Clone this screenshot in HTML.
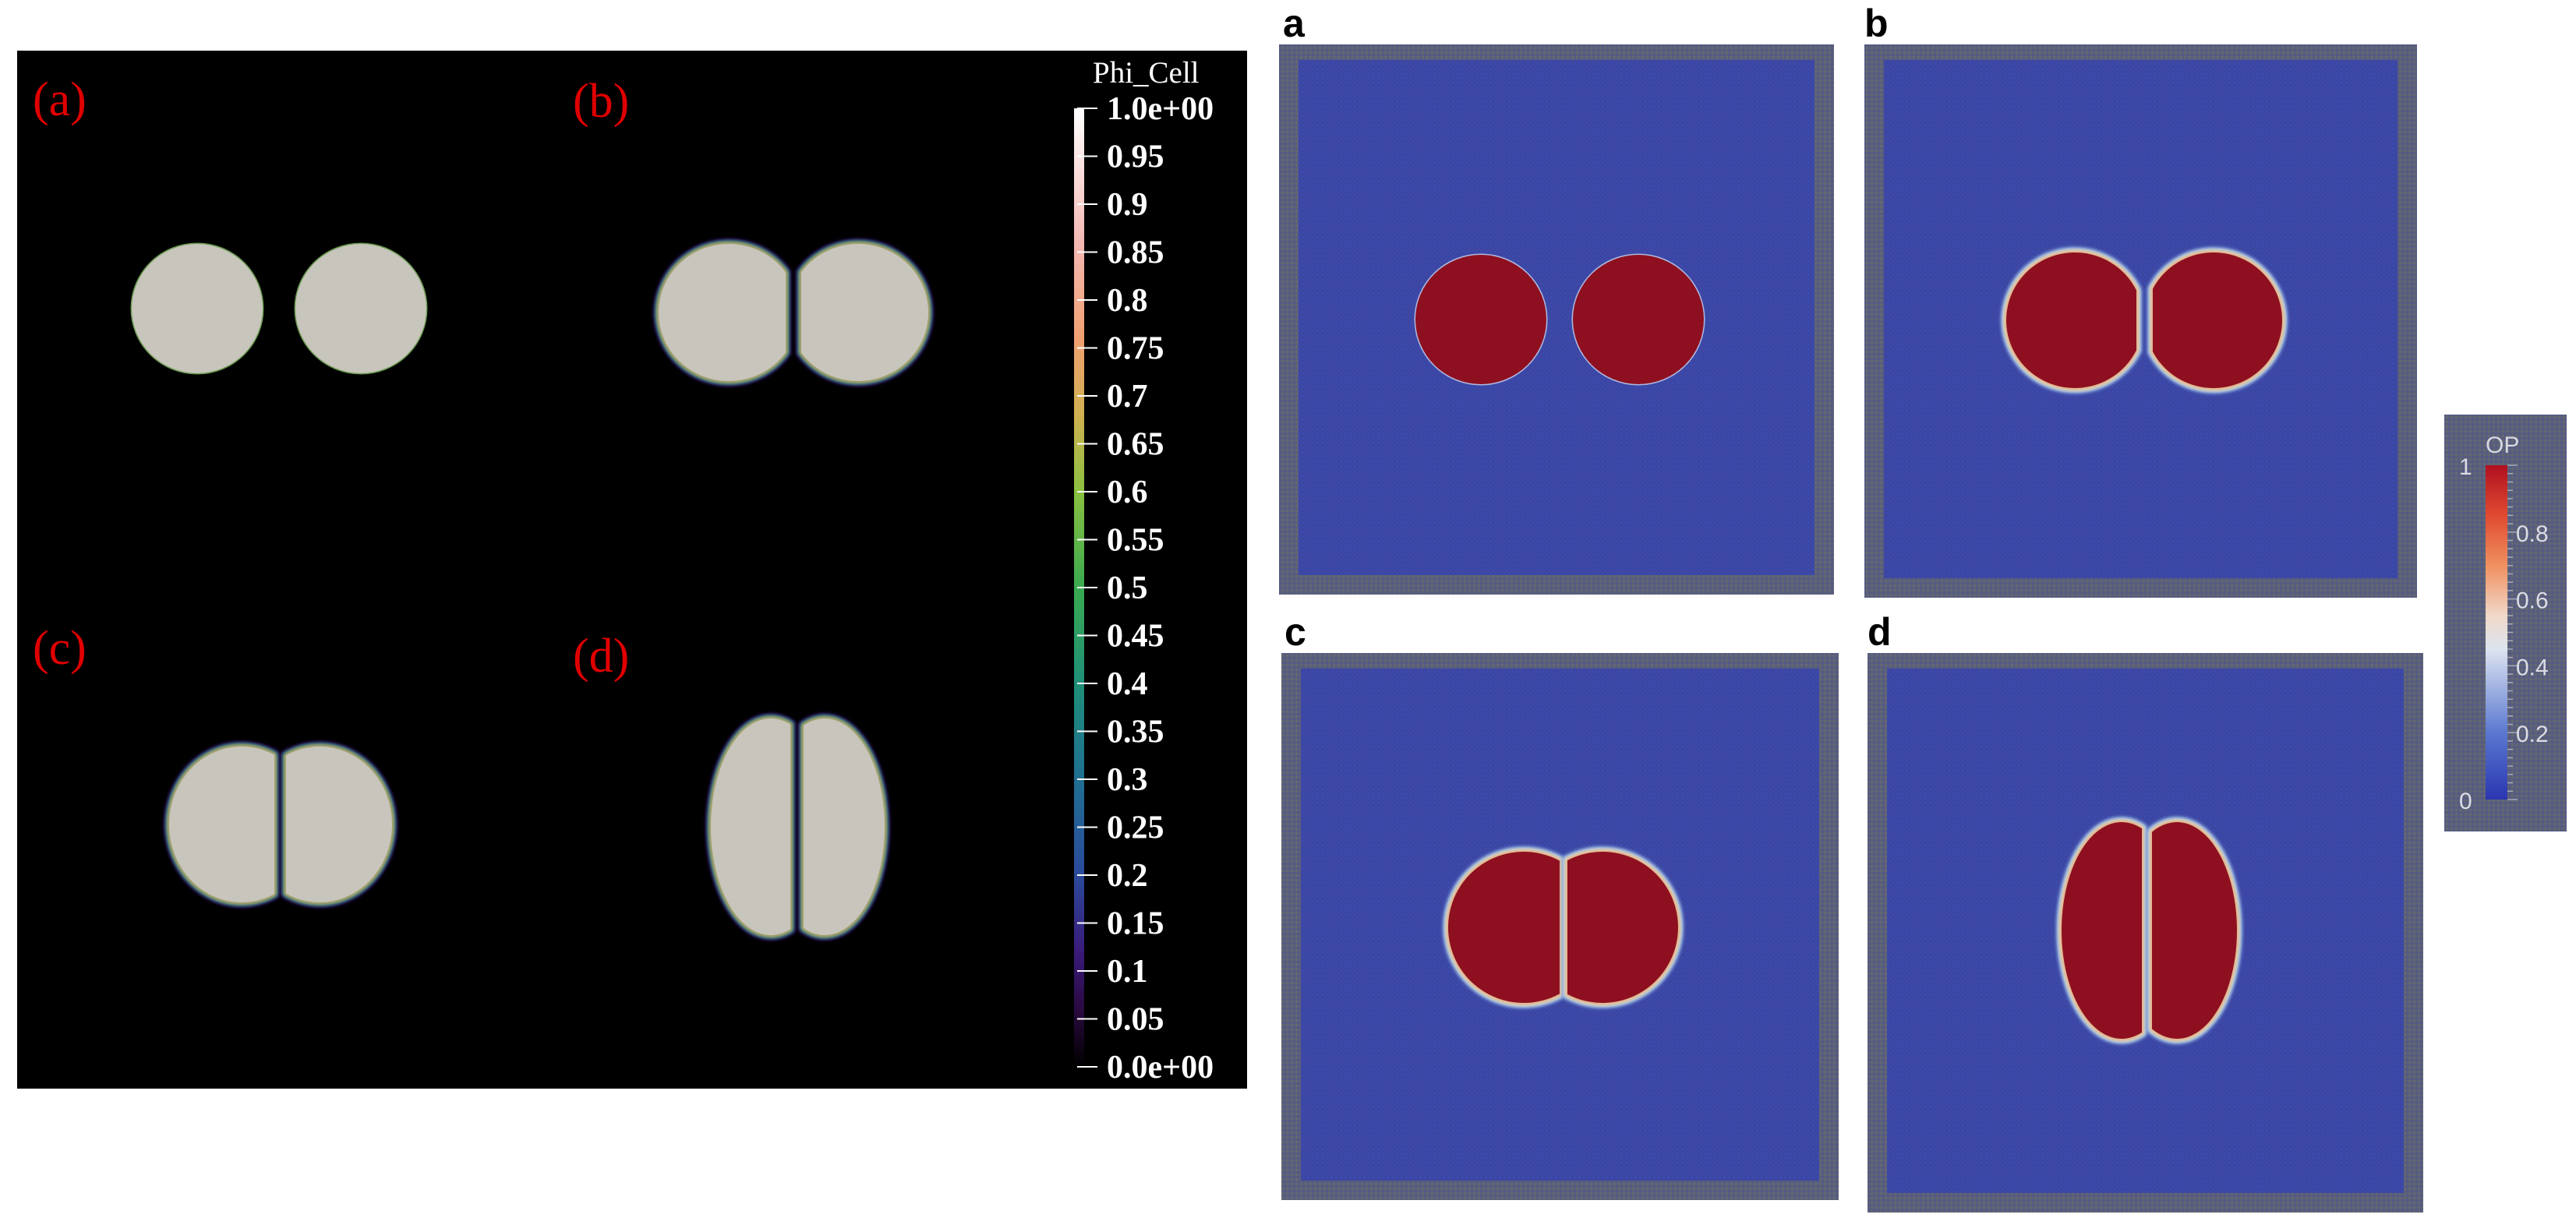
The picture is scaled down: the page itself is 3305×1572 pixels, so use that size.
<!DOCTYPE html>
<html><head><meta charset="utf-8"><style>
html,body{margin:0;padding:0;background:#fff;}
svg{display:block;}
</style></head><body>
<svg id="fig" width="3305" height="1572" viewBox="0 0 3305 1572" xmlns="http://www.w3.org/2000/svg">
<defs>
<linearGradient id="phiGrad" x1="0" y1="1" x2="0" y2="0">
<stop offset="0" stop-color="#000000"/><stop offset="0.06" stop-color="#2a0a40"/><stop offset="0.12" stop-color="#3a1a7a"/>
<stop offset="0.2" stop-color="#2a4a9a"/><stop offset="0.3" stop-color="#1f6f92"/><stop offset="0.4" stop-color="#1f8f78"/>
<stop offset="0.5" stop-color="#3aaa50"/><stop offset="0.6" stop-color="#8ac040"/><stop offset="0.68" stop-color="#d0b050"/>
<stop offset="0.76" stop-color="#f0a070"/><stop offset="0.86" stop-color="#f4b8b4"/><stop offset="1" stop-color="#ffffff"/>
</linearGradient>
<linearGradient id="opGrad" x1="0" y1="1" x2="0" y2="0">
<stop offset="0" stop-color="#2a36b0"/><stop offset="0.2" stop-color="#5a78d0"/><stop offset="0.45" stop-color="#dde4f0"/>
<stop offset="0.55" stop-color="#f0d8c8"/><stop offset="0.7" stop-color="#f09060"/><stop offset="0.85" stop-color="#e04a30"/><stop offset="1" stop-color="#b01020"/>
</linearGradient>
<pattern id="noiseBlue" width="6" height="6" patternUnits="userSpaceOnUse"><rect width="6" height="6" fill="#3b45a6"/><rect width="3" height="3" fill="#4048a0"/><rect x="3" y="3" width="3" height="3" fill="#3a4cab"/></pattern>
<pattern id="noiseGray" width="6" height="6" patternUnits="userSpaceOnUse"><rect width="6" height="6" fill="#5a5f7c"/><rect width="3" height="3" fill="#646870"/><rect x="3" y="3" width="3" height="3" fill="#545a84"/></pattern>
<filter id="soft"><feGaussianBlur stdDeviation="2"/></filter>
</defs>
<rect x="22" y="65" width="1578" height="1332" fill="#000"/>
<g id="leftCells"></g>
<g id="rightPanels"></g>
<g id="phiBar"></g>
<g id="opBar"></g>
<g font-family="Liberation Serif, serif" font-size="62" fill="#e00000">
<text x="42" y="148">(a)</text>
<text x="735" y="150">(b)</text>
<text x="42" y="852">(c)</text>
<text x="735" y="862">(d)</text>
</g>
<g font-family="Liberation Sans, sans-serif" font-size="50" font-weight="bold" fill="#000">
<text x="1646" y="47">a</text>
<text x="2392" y="47">b</text>
<text x="1648" y="828">c</text>
<text x="2396" y="828">d</text>
</g>
</svg>
<script>
// colorbar data
const phiTicks = [1.0,0.95,0.9,0.85,0.8,0.75,0.7,0.65,0.6,0.55,0.5,0.45,0.4,0.35,0.3,0.25,0.2,0.15,0.1,0.05,0.0];
const phiLabels = ["1.0e+00","0.95","0.9","0.85","0.8","0.75","0.7","0.65","0.6","0.55","0.5","0.45","0.4","0.35","0.3","0.25","0.2","0.15","0.1","0.05","0.0e+00"];
const opTicks = [0,0.2,0.4,0.6,0.8,1];
const opLabels = ["0","0.2","0.4","0.6","0.8","1"];
// cell shapes: [cx, cy, rx, ry, cutX, side]  side -1 = left cell (flat on right), 1 = right cell, 0 = full circle
const leftCellsA = [[253,396,84,83,0,0],[463,396,84,83,0,0]];
const leftCellsB = [[935,401,90,88,1008,-1],[1101,401,90,88,1028,1]];
const leftCellsC = [[310,1058,93,100,352,-1],[410,1058,93,100,367,1]];
const leftCellsD = [[989,1061,77,139,1014,-1],[1058,1061,77,139,1031,1]];
const rightCellsA = [[1900,410,84,83,0,0],[2102,410,84,83,0,0]];
const rightCellsB = [[2662,411,88,87,2741,-1],[2840,411,88,87,2762,1]];
const rightCellsC = [[1955,1190,97,97,2001,-1],[2056,1190,97,97,2011,1]];
const rightCellsD = [[2722,1194,77,139,2748,-1],[2793,1194,77,139,2761,1]];

const NS = "http://www.w3.org/2000/svg";
function mk(tag, attrs, parent){ const e=document.createElementNS(NS,tag); for(const k in attrs) e.setAttribute(k,attrs[k]); parent.appendChild(e); return e; }
function cellPath(c){
  const [cx,cy,rx,ry,cut,side]=c;
  if(side===0) return `M${cx-rx},${cy} A${rx},${ry} 0 1 0 ${cx+rx},${cy} A${rx},${ry} 0 1 0 ${cx-rx},${cy} Z`;
  const t=(cut-cx)/rx; const dy=ry*Math.sqrt(Math.max(0,1-t*t));
  const large = side<0 ? (cut>cx?1:0) : (cut<cx?1:0);
  const sweep = side<0 ? 0 : 1;
  return `M${cut},${cy-dy} A${rx},${ry} 0 ${large} ${sweep} ${cut},${cy+dy} Z`;
}
const leftG=document.getElementById('leftCells');
function drawLeft(cells, glow, name){
  const g=mk('g',{},leftG);
  
  
  cells.forEach((c,i)=>{
    const d=cellPath(c);
    if(glow){
      [[14,'#2a0f48'],[10,'#2c4c96'],[7,'#2a9070'],[4,'#b0b050'],[2,'#e8a090']].forEach(s=>{
        const p=mk('path',{d:d,fill:'none',stroke:s[1],'stroke-width':s[0],'stroke-linejoin':'round',filter:'url(#soft)'},g);
        
        
      });
    } else {
      mk('path',{d:d,fill:'none',stroke:'#6a9a50','stroke-width':3},g);
    }
    const f=mk('path',{d:d,fill:'#c8c5bc'},g);
    
    
  });
}
drawLeft(leftCellsA,false,'cells-a');
drawLeft(leftCellsB,true,'cells-b');
drawLeft(leftCellsC,true,'cells-c');
drawLeft(leftCellsD,true,'cells-d');

const rightG=document.getElementById('rightPanels');
function drawPanel(x0,y0,x1,y1,cells,glow,name){
  const g=mk('g',{},rightG);
  
  
  mk('rect',{x:x0,y:y0,width:x1-x0,height:y1-y0,fill:'url(#noiseGray)'},g);
  mk('rect',{x:x0+25,y:y0+20,width:x1-x0-50,height:y1-y0-45,fill:'url(#noiseBlue)'},g);
  cells.forEach((c,i)=>{
    const d=cellPath(c);
    if(glow){
      [[14,'#7a9ad8'],[10,'#b8d8ee'],[6,'#f0e0b8'],[3,'#e09060']].forEach(s=>{
        mk('path',{d:d,fill:'none',stroke:s[1],'stroke-width':s[0],'stroke-linejoin':'round',filter:'url(#soft)'},g);
      });
    } else {
      mk('path',{d:d,fill:'none',stroke:'#b0b8e0','stroke-width':3},g);
    }
    const f=mk('path',{d:d,fill:'#8e1020'},g);
    
    
  });
}
drawPanel(1641,57,2353,763,rightCellsA,false,'panel-a-right');
drawPanel(2392,57,3101,767,rightCellsB,true,'panel-b-right');
drawPanel(1644,838,2359,1540,rightCellsC,true,'panel-c-right');
drawPanel(2396,838,3109,1556,rightCellsD,true,'panel-d-right');

// Phi colorbar
const pb=document.getElementById('phiBar');
const phiY=v=>1369-v*1230;
const t1=mk('text',{x:1402,y:106,fill:'#fff','font-family':'Liberation Serif, serif','font-size':39},pb);
t1.textContent='Phi_Cell';


const br=mk('rect',{x:1378,y:phiY(1),width:13,height:phiY(0)-phiY(1),fill:'url(#phiGrad)'},pb);


phiTicks.forEach((v,i)=>{
  const y=phiY(v);
  mk('line',{x1:1382,x2:1408,y1:y,y2:y,stroke:'#fff','stroke-width':2},pb);
  const t=mk('text',{x:1420,y:y+14,fill:'#fff','font-family':'Liberation Serif, serif','font-size':42,'font-weight':'bold'},pb);
  t.textContent=phiLabels[i];
  
  
});

// OP colorbar
const ob=document.getElementById('opBar');
const opY=v=>1026-v*429;
const box=mk('rect',{x:3136,y:532,width:157,height:535,fill:'url(#noiseGray)'},ob);


const t2=mk('text',{x:3189,y:581,fill:'#d8d8e0','font-family':'Liberation Sans, sans-serif','font-size':30},ob);
t2.textContent='OP';


const ob2=mk('rect',{x:3189,y:opY(1),width:28,height:opY(0)-opY(1),fill:'url(#opGrad)'},ob);


for(let k=0;k<=40;k++){
  const y=opY(k/40);
  mk('line',{x1:3217,x2:k%8===0?3230:3224,y1:y,y2:y,stroke:'#a8aab8','stroke-width':1.5},ob);
}
opTicks.forEach((v,i)=>{
  const y=opY(v);
  const edge = (v===0||v===1);
  const t=mk('text',{x:edge?3155:3228,y:y+12,fill:'#dcdce4','font-family':'Liberation Sans, sans-serif','font-size':30},ob);
  t.textContent=opLabels[i];
  
  
});
</script>
</body></html>
